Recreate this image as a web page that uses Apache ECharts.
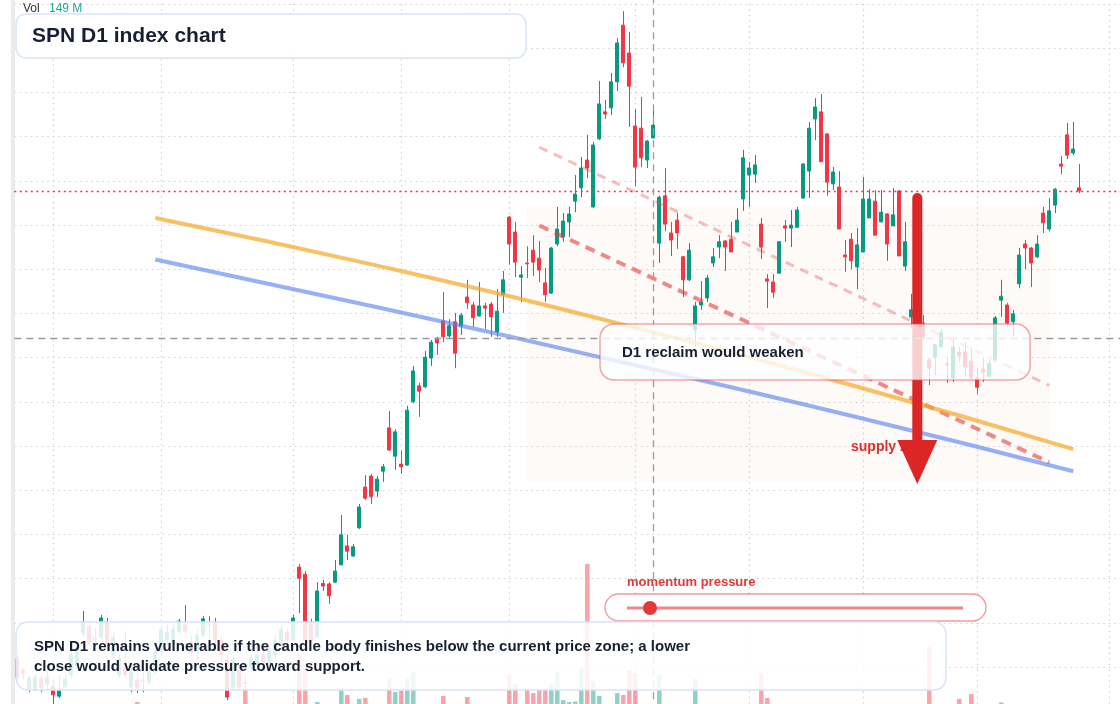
<!DOCTYPE html>
<html>
<head>
<meta charset="utf-8">
<title>SPN D1 index chart</title>
<script src="https://cdn.jsdelivr.net/npm/echarts@6/dist/echarts.min.js"></script>
<style>
  html, body { margin: 0; padding: 0; background: #fff; }
  #main { width: 1120px; height: 704px; }
</style>
</head>
<body>
<div id="main"></div>
<script>
// daily candles: [open, close, low, high]
var candles = [
  [101.8, 97.7, 96.8, 102.7], [99.3, 98.6, 97.3, 99.8], [95.0, 97.5, 94.3, 98.2], [95.0, 97.7, 94.6, 98.4],
  [97.3, 95.3, 94.3, 98.0], [96.2, 97.7, 94.8, 99.3], [95.7, 93.7, 91.6, 97.1], [93.4, 94.8, 93.0, 98.2],
  [95.5, 97.3, 94.8, 98.2], [98.2, 102.7, 97.5, 103.8], [100.2, 104.5, 99.8, 105.4], [107.7, 110.2, 107.0, 112.7],
  [109.1, 105.4, 104.8, 110.2], [106.6, 106.3, 103.8, 108.8], [106.8, 111.1, 106.1, 111.8], [110.2, 104.5, 103.8, 111.1],
  [102.7, 106.6, 102.0, 107.9], [98.2, 102.0, 97.5, 102.9], [99.8, 98.2, 97.5, 108.1], [95.5, 98.9, 94.3, 100.5],
  [97.1, 95.3, 94.1, 99.3], [97.1, 96.8, 94.3, 98.9], [96.6, 98.9, 95.9, 99.8], [98.9, 103.4, 98.4, 104.3],
  [103.6, 108.4, 102.7, 109.3], [106.1, 107.9, 105.0, 109.5], [105.4, 108.6, 104.3, 109.7], [108.1, 110.4, 107.5, 110.9],
  [109.5, 108.1, 107.5, 114.0], [105.7, 103.2, 102.3, 107.0], [103.4, 107.2, 101.6, 108.4], [107.2, 110.9, 106.6, 111.5],
  [109.5, 109.7, 106.1, 111.5], [110.2, 106.1, 104.8, 111.1], [106.1, 102.7, 101.1, 107.0], [101.6, 93.2, 92.5, 102.7],
  [95.3, 101.6, 94.8, 102.5], [99.3, 95.5, 94.8, 100.5], [96.4, 96.2, 94.8, 98.0], [99.8, 102.0, 98.9, 102.9],
  [100.5, 102.7, 99.3, 103.8], [102.7, 101.1, 99.8, 103.8], [100.5, 103.8, 99.3, 104.8], [102.7, 106.1, 102.0, 107.0],
  [105.0, 108.4, 103.8, 109.5], [107.9, 106.1, 105.0, 108.8], [106.1, 111.1, 105.9, 111.8], [122.6, 120.1, 112.2, 123.3],
  [121.0, 106.1, 105.7, 121.7], [110.2, 106.1, 105.7, 110.9], [106.8, 117.2, 106.6, 119.2], [118.9, 118.3, 117.2, 119.7],
  [118.8, 116.1, 114.3, 119.2], [119.2, 121.7, 119.0, 124.2], [123.1, 129.9, 123.1, 134.4], [127.4, 126.2, 124.2, 129.9],
  [125.1, 127.2, 124.9, 127.8], [131.5, 136.2, 131.2, 136.9], [140.7, 138.2, 137.8, 143.4], [143.2, 138.5, 136.9, 143.7],
  [139.8, 142.5, 138.5, 143.2], [144.3, 145.3, 141.9, 145.9], [154.1, 149.1, 148.9, 157.9], [147.7, 153.2, 144.6, 153.8],
  [145.9, 145.3, 143.7, 148.9], [145.7, 158.1, 145.5, 159.1], [160.0, 167.0, 159.7, 168.1], [163.6, 162.4, 156.6, 164.3],
  [163.4, 170.1, 163.1, 171.5], [169.9, 173.5, 168.1, 174.0], [174.4, 173.3, 170.6, 174.7], [178.3, 174.7, 173.5, 184.8],
  [174.9, 177.2, 174.2, 178.7], [178.1, 171.0, 167.6, 180.1], [177.2, 179.6, 175.1, 180.1], [183.7, 182.4, 181.0, 187.6],
  [181.9, 179.0, 176.9, 182.6], [179.4, 181.7, 179.4, 187.1], [181.7, 181.2, 176.5, 182.4], [182.1, 179.2, 174.7, 182.6],
  [175.8, 180.5, 174.7, 185.5], [184.2, 187.6, 180.1, 189.6], [201.8, 195.7, 191.0, 202.0], [198.4, 191.6, 188.2, 200.7],
  [188.2, 188.7, 182.6, 190.7], [191.4, 191.2, 188.0, 195.2], [194.3, 191.6, 188.5, 197.7], [192.5, 189.8, 187.1, 196.4],
  [186.9, 184.2, 182.6, 190.3], [184.6, 194.8, 184.4, 195.0], [195.7, 199.1, 195.2, 204.1], [197.3, 200.9, 196.2, 202.7],
  [200.7, 202.5, 197.3, 204.1], [205.4, 207.0, 202.9, 211.3], [208.4, 212.9, 206.3, 215.4], [214.7, 212.9, 210.6, 220.4],
  [204.1, 218.1, 203.8, 218.8], [219.5, 227.4, 219.2, 232.6], [225.6, 225.1, 224.0, 228.3], [226.5, 232.4, 224.9, 234.4],
  [232.4, 241.2, 230.3, 242.3], [245.2, 236.7, 235.7, 248.4], [238.9, 231.4, 222.2, 243.7], [222.4, 213.1, 208.8, 226.2],
  [221.9, 215.2, 213.1, 229.0], [214.7, 219.0, 212.9, 219.2], [219.7, 222.6, 219.7, 226.7], [195.9, 206.3, 191.4, 206.6],
  [206.6, 200.2, 198.6, 212.9], [198.2, 196.6, 193.0, 200.7], [201.1, 198.2, 194.6, 202.7], [192.8, 187.6, 183.7, 193.0],
  [187.6, 194.3, 187.3, 195.9], [176.2, 181.7, 172.6, 182.6], [181.9, 182.6, 180.8, 187.3], [183.5, 188.0, 182.6, 188.7],
  [191.4, 192.8, 190.5, 194.8], [195.0, 196.2, 192.5, 197.7], [196.4, 195.0, 189.6, 196.6], [196.8, 193.9, 193.9, 200.7],
  [198.4, 201.1, 198.4, 203.8], [205.9, 215.2, 203.2, 217.0], [211.3, 212.9, 204.1, 214.3], [211.5, 213.6, 209.5, 215.8],
  [200.2, 195.0, 192.3, 201.6], [187.8, 187.3, 181.2, 188.9], [187.1, 184.8, 183.5, 188.9], [189.1, 196.2, 189.1, 196.4],
  [199.8, 199.3, 196.2, 201.1], [199.3, 200.0, 195.0, 203.4], [199.5, 203.4, 199.3, 204.1], [206.1, 213.8, 205.9, 214.0],
  [212.2, 221.9, 206.1, 223.3], [224.0, 226.7, 219.2, 228.7], [225.6, 214.3, 214.3, 229.6], [220.6, 209.7, 206.6, 220.8],
  [209.3, 212.0, 207.9, 213.1], [208.6, 199.1, 199.1, 212.2], [193.2, 192.8, 189.4, 196.6], [196.8, 191.9, 190.0, 198.2],
  [190.5, 195.5, 185.5, 199.3], [193.9, 205.9, 193.9, 210.9], [201.6, 205.9, 201.6, 208.1], [205.4, 197.7, 197.7, 207.9],
  [200.7, 202.9, 200.7, 207.9], [202.5, 195.7, 191.9, 202.7], [199.8, 202.3, 199.8, 208.4], [207.7, 193.0, 193.0, 207.9],
  [190.7, 196.2, 189.6, 200.7], [179.2, 180.8, 176.7, 184.4], [180.3, 178.5, 177.6, 181.2], [177.8, 174.7, 174.0, 179.6],
  [169.5, 167.6, 163.8, 169.9], [170.1, 172.9, 166.1, 173.1], [172.4, 175.6, 172.4, 176.5], [168.6, 168.3, 164.3, 170.1],
  [165.4, 172.4, 164.5, 174.0], [171.3, 170.4, 169.0, 172.4], [171.3, 167.9, 165.6, 173.5], [169.2, 165.4, 165.2, 172.2],
  [165.4, 163.3, 161.8, 167.6], [167.4, 166.7, 164.5, 169.9], [165.8, 168.6, 165.6, 169.5], [169.5, 179.0, 169.0, 179.4],
  [183.0, 183.9, 179.2, 187.6], [181.9, 177.8, 176.9, 182.4], [178.1, 179.9, 174.7, 180.8], [186.7, 193.2, 185.7, 194.8],
  [195.7, 194.8, 190.0, 196.6], [194.8, 191.4, 186.0, 195.0], [192.8, 195.7, 192.5, 197.7], [202.7, 200.5, 198.2, 204.1],
  [199.1, 203.2, 198.6, 206.1], [204.5, 208.1, 202.7, 208.4], [213.8, 213.3, 211.5, 215.6], [220.4, 215.8, 214.9, 223.1],
  [216.3, 217.2, 215.8, 223.3], [208.4, 207.7, 207.2, 213.8]
];

// volume per candle, millions
var volumes = [
  0, 0, 0, 0, 0, 0, 0, 0, 0, 0,
  0, 0, 0, 0, 0, 0, 0, 0, 0, 0,
  10, 0, 0, 0, 0, 0, 0, 0, 0, 0,
  0, 0, 0, 0, 0, 0, 0, 0, 77, 0,
  0, 0, 0, 0, 0, 0, 0, 261, 200, 0,
  10, 0, 0, 0, 82, 46, 0, 26, 31, 0,
  0, 0, 133, 61, 67, 133, 164, 0, 0, 0,
  0, 41, 0, 0, 0, 36, 0, 0, 0, 0,
  0, 0, 148, 102, 0, 72, 56, 72, 72, 102,
  164, 20, 10, 13, 184, 717, 118, 41, 0, 0,
  56, 46, 174, 159, 0, 0, 0, 149, 0, 0,
  0, 0, 0, 128, 0, 0, 0, 0, 0, 0,
  0, 0, 0, 0, 159, 31, 0, 0, 0, 0,
  0, 0, 0, 0, 0, 0, 0, 0, 0, 0,
  0, 0, 0, 0, 0, 0, 0, 0, 0, 0,
  0, 0, 292, 0, 0, 0, 0, 26, 0, 51,
  0, 0, 0, 0, 8, 0, 0, 0, 0, 0,
  0, 0, 0, 0, 0, 0, 0, 0
];

// session slots on the axis (room past the last candle), and month-start slots
var slotCount = 185;
var monthTicks = [6, 24, 46, 64, 82, 103, 122, 141, 160, 182];

// overlay lines: [slot, price]
var orangeLine = [[23, 201.6], [60, 190.8], [100, 177.8], [140, 163.4], [176, 149.3]];
var blueLine = [[23, 192.2], [60, 181.4], [100, 169.2], [140, 156.5], [176, 144.3]];
var channelUpper = [[87, 217.6], [172, 163.7]];
var channelLower = [[87, 199.9], [172, 146.3]];
var supplyZone = [[85, 204.2], [172, 141.9]];
var arrowShaft = [[150, 206.1], [150, 149.1]];
var arrowHead = [[150, 146.4]];
var crossSlot = 106;
var crossPrice = 174.4;
var shownVolume = '149 M';

var categories = [];
for (var i = 0; i < slotCount; i++) categories.push('S' + (i + 1));
var lastClose = candles[candles.length - 1][1];

var volData = volumes.map(function (v, i) {
  var up = candles[i][1] >= candles[i][0];
  return { value: v, itemStyle: { color: up ? 'rgba(8,153,129,0.45)' : 'rgba(242,54,69,0.45)' } };
});

var FONT = '"Liberation Sans", Arial, sans-serif';
var chart = echarts.init(document.getElementById('main'));

var option = {
  animation: false,
  backgroundColor: '#fff',
  grid: [
    { left: 14.3, top: -40.2, width: 1110, height: 751.4, outerBoundsMode: 'none' },
    { left: 14.3, top: 540, width: 1110, height: 164, outerBoundsMode: 'none' }
  ],
  xAxis: [
    {
      type: 'category', data: categories, gridIndex: 0, boundaryGap: true,
      axisLine: { show: false }, axisTick: { show: false }, axisLabel: { show: false },
      splitLine: {
        show: true, alignWithLabel: true,
        interval: function (idx) { return monthTicks.indexOf(idx) >= 0; },
        lineStyle: { color: '#cfcfcf', type: [1.5, 4], width: 1.2 }
      }
    },
    {
      type: 'category', data: categories, gridIndex: 1, boundaryGap: true, show: false
    }
  ],
  yAxis: [
    {
      type: 'value', gridIndex: 0, min: 90, max: 260, interval: 10, offset: 2,
      axisLine: { show: true, lineStyle: { color: '#ebebeb', width: 4 } },
      axisTick: { show: false }, axisLabel: { show: false },
      splitLine: { show: true, lineStyle: { color: '#cfcfcf', type: [1.5, 4], width: 1.2 } }
    },
    { type: 'value', gridIndex: 1, min: 0, max: 840, show: false, splitLine: { show: false } }
  ],
  series: [
    {
      name: 'Volume', type: 'bar', xAxisIndex: 1, yAxisIndex: 1,
      data: volData, barWidth: 4.5, z: 1, silent: true
    },
    {
      name: 'SPN', type: 'candlestick', data: candles, barWidth: 3.5, z: 2,
      itemStyle: {
        color: '#089981', color0: '#f23645',
        borderColor: '#089981', borderColor0: '#f23645', borderWidth: 1
      }
    },
    {
      name: 'Upper channel', type: 'line', data: channelUpper, symbol: 'none', z: 3, silent: true,
      lineStyle: { color: 'rgba(232,70,70,0.35)', width: 3, type: [9, 7] },
      markLine: {
        silent: true, symbol: ['none', 'none'], label: { show: false },
        data: [
          { yAxis: lastClose, lineStyle: { color: '#ff2d3d', opacity: 1, type: [2, 3.5], width: 1.4 } },
          { yAxis: crossPrice, lineStyle: { color: '#9a9a9a', opacity: 1, type: [7, 5], width: 1.3 } },
          { xAxis: categories[crossSlot], lineStyle: { color: '#9a9a9a', opacity: 1, type: [7, 5], width: 1.3 } }
        ]
      }
    },
    {
      name: 'Lower channel', type: 'line', data: channelLower, symbol: 'none', z: 3, silent: true,
      lineStyle: { color: 'rgba(228,60,60,0.6)', width: 4, type: [10, 7] },
      markArea: {
        silent: true,
        itemStyle: { color: 'rgba(240,190,160,0.07)' },
        data: [[{ coord: supplyZone[0] }, { coord: supplyZone[1] }]]
      }
    },
    {
      name: 'Slow average', type: 'line', data: orangeLine, smooth: true, symbol: 'none', z: 3, silent: true,
      lineStyle: { color: 'rgba(245,166,35,0.7)', width: 4 }
    },
    {
      name: 'Fast average', type: 'line', data: blueLine, smooth: true, symbol: 'none', z: 3, silent: true,
      lineStyle: { color: 'rgba(80,125,240,0.6)', width: 4 }
    },
    {
      name: 'Arrow', type: 'line', data: arrowShaft, symbol: 'none', z: 4, silent: true,
      lineStyle: { color: '#dc2626', width: 10, cap: 'round' }
    },
    {
      name: 'Arrow head', type: 'scatter', data: arrowHead, symbol: 'triangle', symbolRotate: 180,
      symbolSize: [40, 44], z: 4, silent: true, itemStyle: { color: '#dc2626', opacity: 1 }
    }
  ],
  graphic: [
    { type: 'text', x: 23, y: 9, z: 10, style: { text: 'Vol', fill: '#333', font: '12px ' + FONT, textVerticalAlign: 'middle', verticalAlign: 'middle' } },
    { type: 'text', x: 49, y: 9, z: 10, style: { text: shownVolume, fill: '#22a699', font: '12px ' + FONT, textVerticalAlign: 'middle', verticalAlign: 'middle' } },
    {
      type: 'rect', z: 10, shape: { x: 16, y: 14, width: 510, height: 44, r: 10 },
      style: { fill: 'rgba(255,255,255,0.95)', stroke: '#d8e4f7', lineWidth: 1.5 }
    },
    { type: 'text', x: 32, y: 36, z: 11, style: { text: 'SPN D1 index chart', fill: '#172033', font: 'bold 21px ' + FONT, textVerticalAlign: 'middle', verticalAlign: 'middle' } },
    { type: 'text', x: 851, y: 447, z: 1, style: { text: 'supply zone', fill: '#dc2626', font: 'bold 14px ' + FONT, textVerticalAlign: 'middle', verticalAlign: 'middle' } },
    {
      type: 'rect', z: 10, shape: { x: 600, y: 324, width: 430, height: 56, r: 14 },
      style: { fill: 'rgba(255,255,255,0.78)', stroke: 'rgba(232,80,80,0.5)', lineWidth: 1.5 }
    },
    { type: 'text', x: 622, y: 353, z: 11, style: { text: 'D1 reclaim would weaken', fill: '#172033', font: 'bold 15px ' + FONT, textVerticalAlign: 'middle', verticalAlign: 'middle' } },
    { type: 'text', x: 627, y: 582, z: 11, style: { text: 'momentum pressure', fill: '#e03a3a', font: 'bold 13px ' + FONT, textVerticalAlign: 'middle', verticalAlign: 'middle' } },
    {
      type: 'rect', z: 10, shape: { x: 605, y: 594, width: 381, height: 27, r: 13.5 },
      style: { fill: 'rgba(255,255,255,0.95)', stroke: 'rgba(228,70,70,0.55)', lineWidth: 1.3 }
    },
    { type: 'line', z: 11, shape: { x1: 627, y1: 608, x2: 963, y2: 608 }, style: { stroke: '#ee8787', lineWidth: 3 } },
    { type: 'circle', z: 12, shape: { cx: 650, cy: 608, r: 7 }, style: { fill: '#e03a3a' } },
    {
      type: 'rect', z: 10, shape: { x: 16, y: 622, width: 930, height: 68, r: 12 },
      style: { fill: 'rgba(255,255,255,0.86)', stroke: '#d8e4f7', lineWidth: 1.5 }
    },
    { type: 'text', x: 34, y: 647, z: 11, style: { text: 'SPN D1 remains vulnerable if the candle body finishes below the current price zone; a lower', fill: '#172033', font: 'bold 15px ' + FONT, textVerticalAlign: 'middle', verticalAlign: 'middle' } },
    { type: 'text', x: 34, y: 667, z: 11, style: { text: 'close would validate pressure toward support.', fill: '#172033', font: 'bold 15px ' + FONT, textVerticalAlign: 'middle', verticalAlign: 'middle' } }
  ]
};

chart.setOption(option);
</script>
</body>
</html>
